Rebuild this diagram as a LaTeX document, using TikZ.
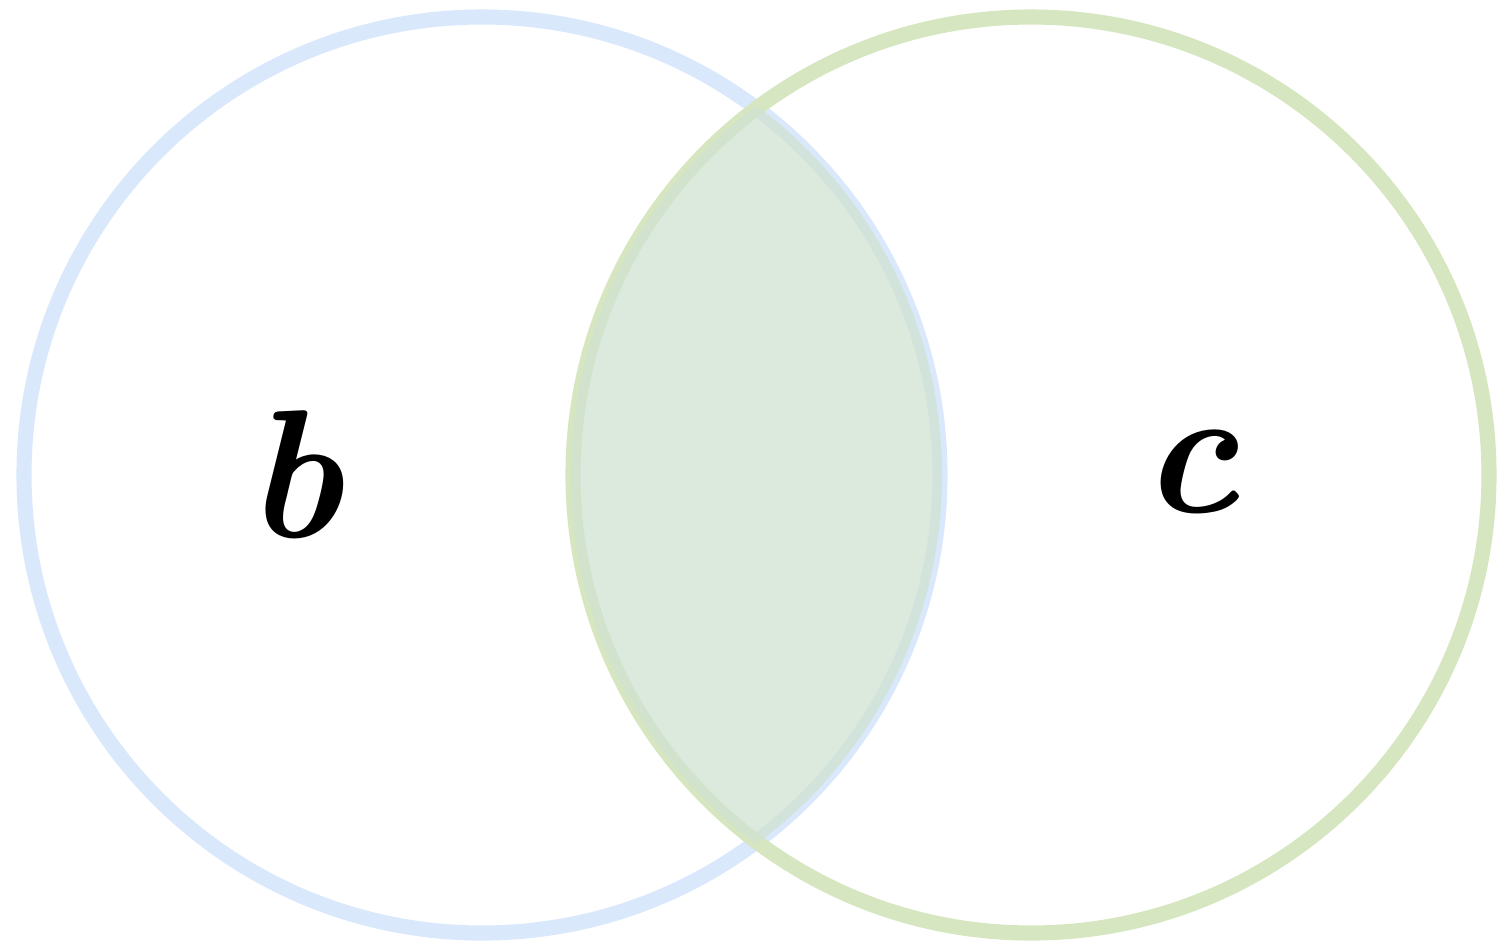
\documentclass[tikz,border=0pt]{standalone}
\usepackage{fontspec}
\definecolor{bluestroke}{RGB}{218,232,252}
\definecolor{greenstroke}{RGB}{214,230,192}
\definecolor{lensfill}{RGB}{208,226,210}
\tikzset{
  ring/.style={line width=4.3pt},
  lbl/.style={font=\fontsize{52}{56}\selectfont\bfseries\itshape, inner sep=0pt}
}
\begin{document}
\begin{tikzpicture}[x=0.01cm,y=-0.01cm]
\useasboundingbox (0,0) rectangle (1500,945);
\coordinate (cb) at (482,475);
\coordinate (cc) at (1031,475);
\draw[ring, bluestroke] (cb) circle[radius=458];
\draw[ring, greenstroke] (cc) circle[radius=458];
\begin{scope}
  \clip (cb) circle[radius=460];
  \fill[lensfill, fill opacity=0.75] (cc) circle[radius=460];
\end{scope}
\node[lbl] (b) at (294,475) {b};
\node[lbl] (c) at (1190,472) {c};
\end{tikzpicture}
\end{document}
